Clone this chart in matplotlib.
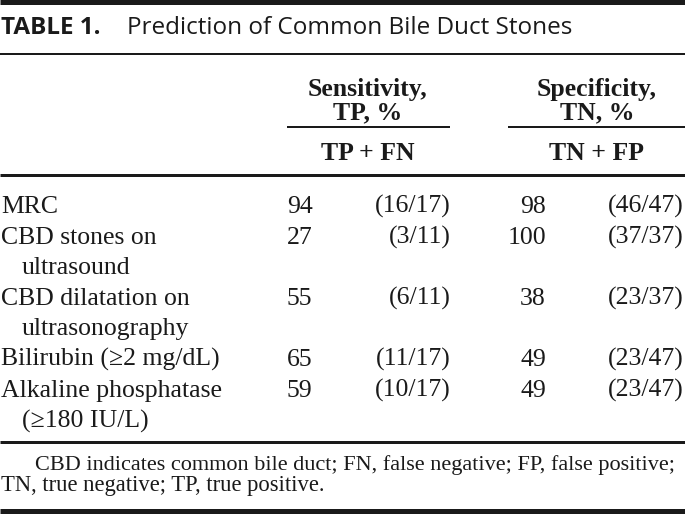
"""
Table 1: prediction of common bile duct stones, drawn as a matplotlib figure.
"""

import matplotlib.pyplot as plt

# table content
row_labels = [
    ["MRC"],
    ["CBD stones on", "ultrasound"],
    ["CBD dilatation on", "ultrasonography"],
    ["Bilirubin (\u22652 mg/dL)"],
    ["Alkaline phosphatase", "(\u2265180 IU/L)"],
]
sens_pct = [94, 27, 55, 65, 59]
sens_frac = ["(16/17)", "(3/11)", "(6/11)", "(11/17)", "(10/17)"]
spec_pct = [98, 100, 38, 49, 49]
spec_frac = ["(46/47)", "(37/37)", "(23/37)", "(23/47)", "(23/47)"]

title_bold = "TABLE 1."
title_text = "Prediction of Common Bile Duct Stones"
sens_head = ["Sensitivity,", "TP, %"]
spec_head = ["Specificity,", "TN, %"]
sens_sub = "TP + FN"
spec_sub = "TN + FP"
footnote = [
    "CBD indicates common bile duct; FN, false negative; FP, false positive;",
    "TN, true negative; TP, true positive.",
]

SERIF = "Liberation Serif"
SANS = "Open Sans"
INK = "#1a1a1a"
FS = 18.5
PX = 0.72  # points per pixel at 100 dpi


def hline(ax, y, x0, x1, px):
    ax.plot([x0, x1], [y, y], color=INK, lw=px * PX, solid_capstyle="butt")


def main():
    fig = plt.figure(figsize=(6.85, 5.14), dpi=100)
    ax = fig.add_axes([0, 0, 1, 1])
    ax.set_xlim(0, 685)
    ax.set_ylim(514, 0)
    ax.axis("off")

    # rules
    hline(ax, 2, 0, 685, 5)
    hline(ax, 54, 0, 685, 2)
    hline(ax, 127, 287, 450, 2)
    hline(ax, 127, 508, 685, 2)
    hline(ax, 175, 0, 685, 3)
    hline(ax, 442, 0, 685, 3)
    hline(ax, 511, 0, 685, 5)

    # title
    ax.text(1, 34, title_bold, family=SANS, weight="bold", fontsize=17.5,
            color=INK, va="baseline")
    ax.text(127, 34, title_text, family=SANS, fontsize=17.5,
            color=INK, va="baseline")

    # column headers
    for i, (s, p) in enumerate(zip(sens_head, spec_head)):
        y = 96 + 23 * i
        ax.text(368, y, s, family=SERIF, weight="bold", fontsize=FS,
                color=INK, ha="center", va="baseline")
        ax.text(597, y, p, family=SERIF, weight="bold", fontsize=FS,
                color=INK, ha="center", va="baseline")
    ax.text(368, 160, sens_sub, family=SERIF, weight="bold", fontsize=FS,
            color=INK, ha="center", va="baseline")
    ax.text(597, 160, spec_sub, family=SERIF, weight="bold", fontsize=FS,
            color=INK, ha="center", va="baseline")

    # body rows
    line_no = 0
    for lab, sp, sf, cp, cf in zip(row_labels, sens_pct, sens_frac,
                                   spec_pct, spec_frac):
        base = 213 + 30.6 * line_no
        for j, part in enumerate(lab):
            ax.text(1 if j == 0 else 22, base + 30.6 * j, part, family=SERIF,
                    fontsize=FS, color=INK, va="baseline")
        ax.text(287, base, str(sp), family=SERIF, fontsize=FS, color=INK,
                va="baseline")
        ax.text(451, base, sf, family=SERIF, fontsize=FS, color=INK,
                ha="right", va="baseline")
        ax.text(546, base, str(cp), family=SERIF, fontsize=FS, color=INK,
                ha="right", va="baseline")
        ax.text(684, base, cf, family=SERIF, fontsize=FS, color=INK,
                ha="right", va="baseline")
        line_no += len(lab)

    # footnote
    ax.text(35, 470, footnote[0], family=SERIF, fontsize=16.05, color=INK,
            va="baseline")
    ax.text(1, 491, footnote[1], family=SERIF, fontsize=16.3, color=INK,
            va="baseline")

    fig.savefig("out.png", dpi=100)
    plt.close(fig)


if __name__ == "__main__":
    main()
